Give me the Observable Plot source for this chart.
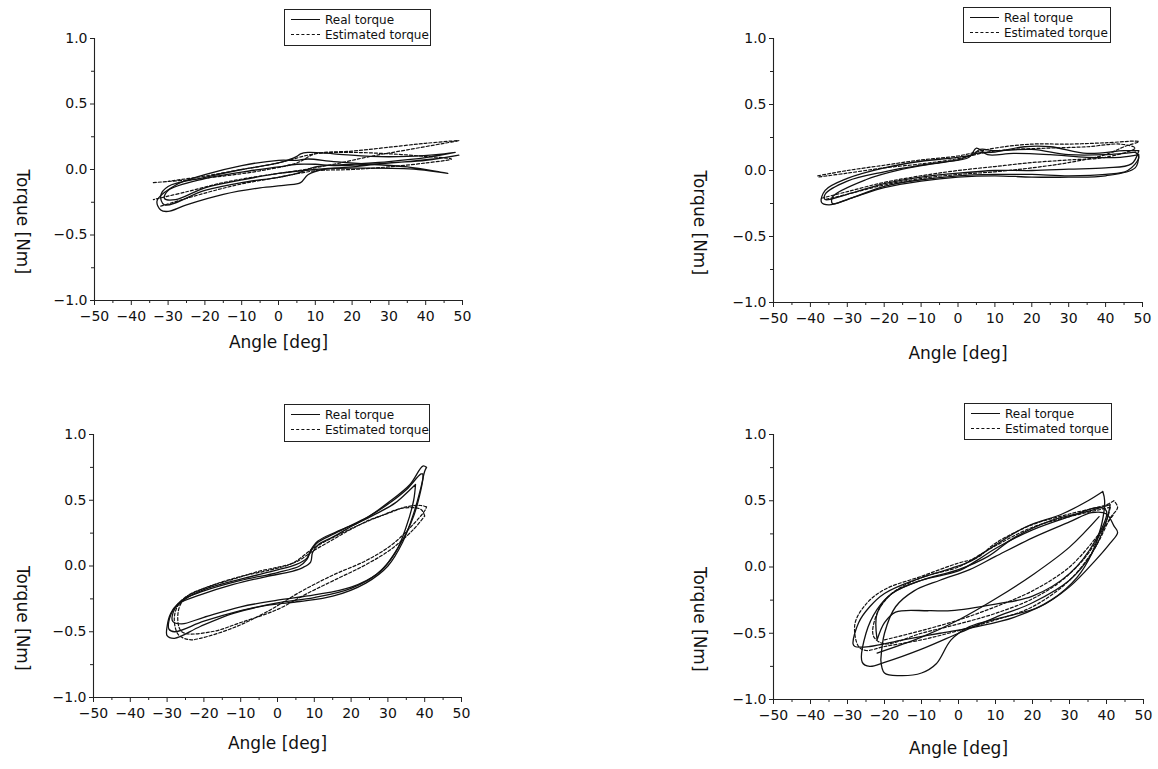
<!DOCTYPE html>
<html>
<head>
<meta charset="utf-8">
<script src="https://cdn.jsdelivr.net/npm/d3@7"></script>
<script src="https://cdn.jsdelivr.net/npm/@observablehq/plot@0.6"></script>
<style>
  html, body { margin: 0; padding: 0; background: #fff; }
  #wrap { position: relative; width: 1158px; height: 769px; overflow: hidden; background: #fff; }
  .panel { position: absolute; }
  .legend { position: absolute; box-sizing: border-box; border: 1px solid #222; background: #fff;
            font-family: "DejaVu Sans", sans-serif; font-size: 12px; color: #111; padding: 2px 0 0 6px; }
  .legend .row { display: flex; align-items: center; height: 15px; white-space: nowrap; }
  .legend .sw { display: inline-block; width: 29px; height: 0; border-top: 1.3px solid #111; margin-right: 5px; }
  .legend .sw.dashed { border-top-style: dashed; }
</style>
</head>
<body>
<div id="wrap"></div>
<script>
// ---------- tick labels / axes ----------
const xDomain = [-50, 50];
const yDomain = [-1, 1];
const xTicks = [-50, -40, -30, -20, -10, 0, 10, 20, 30, 40, 50];
const xMinor = [-45, -35, -25, -15, -5, 5, 15, 25, 35, 45];
const yTicks = [-1, -0.5, 0, 0.5, 1];
const yMinor = [-0.75, -0.25, 0.25, 0.75];
const xLabel = "Angle [deg]";
const yLabel = "Torque [Nm]";
const seriesNames = ["Real torque", "Estimated torque"];

// ---------- panel 1 (top-left) ----------
const p1RealA = [[46,-0.03],[44,-0.02],[35,0.02],[25,0.04],[15,0.06],[8,0.08],[5,0.07],[0,0.07],[-10,0.03],[-20,-0.04],[-28,-0.12],[-33,-0.24],[-32,-0.31],[-30,-0.32],[-25,-0.27],[-15,-0.19],[-5,-0.14],[2,-0.12],[6,-0.10],[8,-0.04],[12,0.0],[25,0.01],[38,0.0],[46,-0.03]];
const p1RealB = [[48,0.13],[45,0.12],[35,0.10],[25,0.10],[15,0.12],[8,0.13],[6,0.12],[5,0.10],[0,0.05],[-10,0.0],[-20,-0.06],[-30,-0.13],[-32,-0.20],[-31,-0.27],[-20,-0.16],[-10,-0.10],[0,-0.06],[5,-0.03],[10,0.02],[20,0.04],[30,0.06],[40,0.09],[48,0.13]];
const p1RealC = [[49,0.11],[45,0.09],[35,0.06],[25,0.04],[15,0.03],[10,0.04],[5,0.04],[0,0.02],[-10,-0.02],[-20,-0.07],[-30,-0.16],[-31,-0.22],[-28,-0.23],[-20,-0.14],[-10,-0.08],[0,-0.03],[10,0.0],[20,0.02],[30,0.05],[40,0.07],[49,0.11]];
const p1EstA = [[-34,-0.10],[-25,-0.08],[-15,-0.05],[-5,-0.01],[5,0.05],[10,0.12],[20,0.14],[30,0.17],[40,0.20],[49,0.22],[45,0.20],[35,0.15],[25,0.10],[15,0.04],[5,-0.01],[-5,-0.05],[-15,-0.10],[-25,-0.17],[-34,-0.23]];
const p1EstB = [[-32,-0.28],[-20,-0.18],[-10,-0.11],[0,-0.06],[10,-0.01],[20,0.0],[30,0.02],[40,0.05],[47,0.08],[40,0.10],[30,0.12],[20,0.13],[10,0.12],[0,0.05],[-10,0.0],[-20,-0.05],[-30,-0.09]];

// ---------- panel 2 (top-right) ----------
const p2RealA = [[48,0.14],[45,0.13],[40,0.12],[30,0.12],[20,0.16],[10,0.15],[6,0.16],[4,0.12],[0,0.10],[-10,0.07],[-20,0.02],[-30,-0.06],[-36,-0.15],[-37,-0.24],[-35,-0.26],[-30,-0.22],[-20,-0.12],[-10,-0.07],[0,-0.04],[10,-0.03],[20,-0.03],[30,-0.04],[40,-0.03],[46,0.0],[49,0.10],[48,0.14]];
const p2RealB = [[49,0.15],[45,0.15],[35,0.13],[25,0.18],[18,0.18],[10,0.14],[5,0.13],[0,0.08],[-10,0.04],[-20,-0.01],[-30,-0.08],[-36,-0.18],[-36,-0.22],[-30,-0.18],[-20,-0.10],[-10,-0.05],[0,-0.02],[10,0.0],[20,0.0],[30,0.01],[40,0.02],[47,0.05],[49,0.15]];
const p2RealC = [[49,0.12],[44,0.10],[35,0.10],[25,0.12],[15,0.13],[8,0.12],[5,0.17],[3,0.10],[-5,0.06],[-15,0.01],[-25,-0.07],[-34,-0.20],[-34,-0.25],[-28,-0.20],[-20,-0.13],[-10,-0.08],[0,-0.05],[10,-0.04],[20,-0.05],[30,-0.05],[40,-0.04],[48,0.02],[49,0.12]];
const p2EstA = [[-38,-0.04],[-30,0.0],[-20,0.04],[-10,0.08],[0,0.11],[5,0.14],[10,0.17],[20,0.20],[30,0.20],[40,0.21],[49,0.22],[45,0.18],[40,0.12],[30,0.06],[20,0.02],[10,-0.01],[0,-0.03],[-10,-0.06],[-20,-0.11],[-30,-0.18],[-36,-0.22]];
const p2EstB = [[-37,-0.21],[-30,-0.16],[-20,-0.09],[-10,-0.04],[0,0.0],[10,0.03],[20,0.06],[30,0.08],[40,0.10],[48,0.17],[44,0.20],[35,0.18],[25,0.17],[15,0.16],[8,0.14],[0,0.09],[-10,0.05],[-20,0.02],[-30,-0.02],[-38,-0.05]];

// ---------- panel 3 (bottom-left) ----------
const p3RealA = [[40.5,0.75],[39.5,0.76],[36,0.62],[30,0.48],[25,0.38],[20,0.30],[15,0.22],[11,0.16],[9.5,0.10],[9,0.03],[7,-0.01],[4,-0.04],[-3,-0.08],[-12,-0.14],[-21,-0.22],[-27,-0.29],[-29,-0.36],[-30,-0.46],[-30,-0.53],[-28,-0.55],[-21,-0.46],[-12,-0.36],[-3,-0.30],[6,-0.27],[15,-0.23],[24,-0.13],[30,0.0],[34,0.18],[37,0.40],[39,0.60],[40,0.72],[40.5,0.75]];
const p3RealB = [[39.5,0.70],[39,0.70],[35,0.58],[30,0.47],[25,0.38],[20,0.31],[15,0.24],[11,0.18],[9,0.11],[8,0.05],[6,0.0],[0,-0.05],[-10,-0.11],[-20,-0.19],[-26,-0.26],[-29,-0.37],[-29.5,-0.48],[-28,-0.50],[-20,-0.42],[-10,-0.34],[0,-0.28],[10,-0.24],[20,-0.17],[28,-0.04],[33,0.15],[37,0.38],[39.5,0.66],[39.5,0.70]];
const p3RealC = [[37.5,0.62],[36,0.58],[32,0.48],[27,0.40],[22,0.33],[16,0.26],[11,0.19],[9,0.12],[8,0.06],[5,0.01],[0,-0.03],[-10,-0.10],[-20,-0.18],[-25,-0.25],[-28,-0.33],[-28.5,-0.42],[-26,-0.44],[-20,-0.39],[-10,-0.31],[0,-0.26],[10,-0.22],[20,-0.16],[27,-0.06],[32,0.10],[35,0.30],[37,0.50],[37.5,0.62]];
const p3EstA = [[40.5,0.45],[39,0.46],[35,0.45],[30,0.40],[25,0.35],[20,0.28],[15,0.20],[10,0.12],[5,0.03],[0,-0.01],[-5,-0.04],[-12,-0.10],[-20,-0.17],[-26,-0.26],[-28,-0.38],[-27,-0.52],[-24,-0.56],[-21,-0.55],[-12,-0.47],[-3,-0.35],[6,-0.20],[15,-0.07],[24,0.04],[31,0.16],[37,0.32],[40,0.42],[40.5,0.45]];
const p3EstB = [[40,0.38],[39,0.43],[34,0.44],[28,0.38],[22,0.31],[16,0.23],[10,0.14],[4,0.02],[-2,-0.03],[-10,-0.08],[-18,-0.15],[-25,-0.24],[-27,-0.35],[-26,-0.50],[-18,-0.50],[-10,-0.43],[0,-0.33],[8,-0.21],[16,-0.10],[24,0.01],[31,0.13],[37,0.28],[40,0.38]];

// ---------- panel 4 (bottom-right) ----------
const p4RealA = [[39,0.57],[35,0.50],[28,0.40],[18,0.30],[8,0.13],[3,0.04],[-2,-0.01],[-12,-0.10],[-20,-0.20],[-24,-0.30],[-27,-0.42],[-28.5,-0.58],[-28,-0.60],[-24,-0.60],[-15,-0.55],[-5,-0.50],[5,-0.45],[15,-0.38],[25,-0.25],[32,-0.08],[36,0.10],[38.5,0.30],[39.5,0.50],[39,0.57]];
const p4RealB = [[41,0.47],[35,0.42],[25,0.35],[15,0.22],[8,0.08],[0,-0.02],[-10,-0.10],[-18,-0.20],[-22,-0.32],[-25,-0.50],[-26,-0.72],[-24,-0.75],[-20,-0.72],[-10,-0.62],[0,-0.50],[10,-0.38],[20,-0.27],[30,-0.10],[36,0.10],[40,0.35],[41,0.47]];
const p4RealC = [[-21,-0.70],[-20,-0.80],[-16,-0.82],[-10,-0.80],[-6,-0.73],[-2,-0.55],[3,-0.45],[12,-0.38],[22,-0.30],[30,-0.15],[37,0.05],[41,0.18],[43,0.26],[42,0.31],[40,0.40],[36,0.41],[30,0.34],[20,0.22],[10,0.08],[3,-0.02],[-5,-0.10],[-12,-0.18],[-17,-0.30],[-20,-0.50],[-21,-0.70]];
const p4RealD = [[-22,-0.55],[-20,-0.42],[-17,-0.34],[-8,-0.33],[-2,-0.33],[10,-0.28],[20,-0.22],[30,-0.05],[37,0.20],[40,0.42],[38,0.45],[30,0.38],[20,0.28],[10,0.14],[5,0.05],[0,-0.03],[-10,-0.10],[-18,-0.20],[-22,-0.35],[-22,-0.55]];
const p4RealE = [[-22,-0.65],[-10,-0.53],[0,-0.40],[10,-0.24],[20,-0.06],[30,0.15],[38,0.38]];
const p4EstA = [[42,0.50],[40,0.47],[30,0.40],[20,0.32],[10,0.18],[5,0.07],[0,0.03],[-10,-0.07],[-20,-0.17],[-25,-0.28],[-28,-0.43],[-27,-0.60],[-25,-0.63],[-20,-0.60],[-10,-0.55],[0,-0.48],[10,-0.40],[20,-0.30],[30,-0.10],[37,0.15],[41,0.37],[43,0.45],[42,0.50]];
const p4EstB = [[41,0.45],[30,0.38],[20,0.30],[10,0.16],[5,0.08],[0,0.0],[-10,-0.08],[-18,-0.20],[-22,-0.35],[-23,-0.52],[-20,-0.58],[-10,-0.50],[0,-0.43],[10,-0.35],[20,-0.24],[28,-0.10],[35,0.10],[40,0.35],[41,0.45]];
const p4EstC = [[-20,-0.55],[-10,-0.48],[0,-0.40],[10,-0.30],[20,-0.18],[30,0.0],[38,0.25],[42,0.40]];

// ---------- layout (positions only) ----------
const panels = [
  {real: [p1RealA, p1RealB, p1RealC], est: [p1EstA, p1EstB],
   left: 0, top: 0, width: 482, height: 370, mL: 94, mR: 20, mT: 38, mB: 70, xdy: 47, ydx: -72,
   legend: [284, 9, 147, 37]},
  {real: [p2RealA, p2RealB, p2RealC], est: [p2EstA, p2EstB],
   left: 580, top: 0, width: 578, height: 370, mL: 193, mR: 16, mT: 38, mB: 68, xdy: 56, ydx: -74,
   legend: [963, 7, 148, 36]},
  {real: [p3RealA, p3RealB, p3RealC], est: [p3EstA, p3EstB],
   left: 0, top: 390, width: 482, height: 379, mL: 93, mR: 21, mT: 44, mB: 72, xdy: 51, ydx: -71,
   legend: [284, 404, 146, 38]},
  {real: [p4RealA, p4RealB, p4RealC, p4RealD, p4RealE], est: [p4EstA, p4EstB, p4EstC],
   left: 580, top: 390, width: 578, height: 379, mL: 193, mR: 15, mT: 44, mB: 70, xdy: 54, ydx: -74,
   legend: [964, 403, 148, 37]}
];

const wrap = document.getElementById("wrap");
const toRows = (loops) => loops.flatMap((loop, i) => loop.map(([x, y]) => ({x, y, loop: i})));
const fmtX = d3.format("d");
const fmtY = d3.format(".1f");

panels.forEach((p) => {
  const realRows = toRows(p.real);
  const estRows = toRows(p.est);
  const chart = Plot.plot({
    width: p.width, height: p.height,
    marginLeft: p.mL, marginRight: p.mR, marginTop: p.mT, marginBottom: p.mB,
    style: {fontFamily: "DejaVu Sans, sans-serif", fontSize: "14px", color: "#111", background: "transparent", overflow: "visible"},
    x: {domain: xDomain, label: null},
    y: {domain: yDomain, label: null},
    marks: [
      Plot.ruleX([xDomain[0]], {stroke: "#222", strokeWidth: 1.1}),
      Plot.ruleY([yDomain[0]], {stroke: "#222", strokeWidth: 1.1}),
      Plot.axisX({ticks: xTicks, tickSize: 5, tickPadding: 6, tickFormat: fmtX, label: null, fontSize: 14, stroke: "#222"}),
      Plot.axisX({ticks: xMinor, tickSize: 3, tickFormat: () => "", label: null, stroke: "#222"}),
      Plot.axisY({ticks: yTicks, tickSize: 4, tickPadding: 3, tickFormat: fmtY, label: null, fontSize: 14, stroke: "#222"}),
      Plot.axisY({ticks: yMinor, tickSize: 3, tickFormat: () => "", label: null, stroke: "#222"}),
      Plot.line(realRows, {x: "x", y: "y", z: "loop", stroke: "#111", strokeWidth: 1.3, curve: "catmull-rom"}),
      Plot.line(estRows, {x: "x", y: "y", z: "loop", stroke: "#111", strokeWidth: 1.2, strokeDasharray: "3,2", curve: "catmull-rom"}),
      Plot.text([xLabel], {frameAnchor: "bottom", dy: p.xdy, text: d => d, fontSize: 17, fill: "#111"}),
      Plot.text([yLabel], {frameAnchor: "left", dx: p.ydx, rotate: 90, text: d => d, fontSize: 17, fill: "#111"})
    ]
  });
  const holder = document.createElement("div");
  holder.className = "panel";
  holder.style.left = p.left + "px";
  holder.style.top = p.top + "px";
  holder.appendChild(chart);
  wrap.appendChild(holder);

  const [lx, ly, lw, lh] = p.legend;
  const lg = document.createElement("div");
  lg.className = "legend";
  lg.style.left = lx + "px"; lg.style.top = ly + "px";
  lg.style.width = lw + "px"; lg.style.height = lh + "px";
  seriesNames.forEach((name, i) => {
    const row = document.createElement("div");
    row.className = "row";
    const sw = document.createElement("span");
    sw.className = "sw" + (i === 1 ? " dashed" : "");
    const t = document.createElement("span");
    t.textContent = name;
    row.appendChild(sw); row.appendChild(t);
    lg.appendChild(row);
  });
  wrap.appendChild(lg);
});
</script>
</body>
</html>
